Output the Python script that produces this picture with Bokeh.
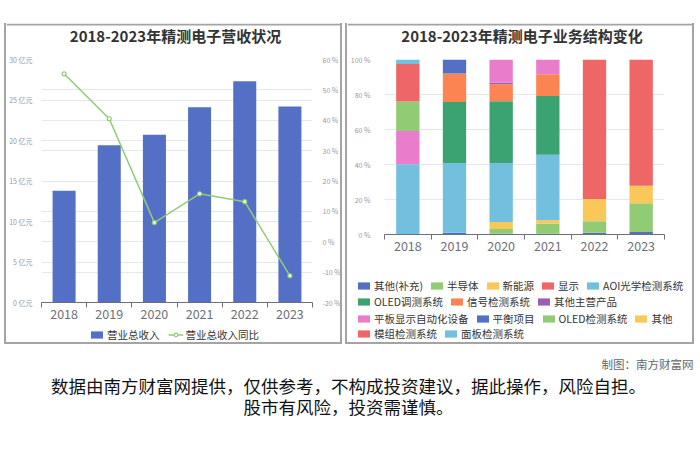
from bokeh.plotting import figure
from bokeh.models import (Range1d, LinearAxis, FixedTicker, PrintfTickFormatter, Grid,
                          Legend, LegendItem, Label, Spacer, Span, ColumnDataSource)
from bokeh.layouts import column, row
from bokeh.embed import file_html
from bokeh.resources import INLINE

# ---------------- data ----------------
years = ["2018", "2019", "2020", "2021", "2022", "2023"]

revenue = [13.8, 19.4, 20.7, 24.1, 27.3, 24.2]          # 营业总收入 (亿元)
revenue_yoy = [55.3, 40.5, 6.3, 15.8, 13.2, -11.2]      # 营业总收入同比 (%)

left_ticks = [0, 5, 10, 15, 20, 25, 30]
right_ticks = [-20, -10, 0, 10, 20, 30, 40, 50, 60]
pct_ticks = [0, 20, 40, 60, 80, 100]

segments = ["其他(补充)", "半导体", "新能源", "显示", "AOI光学检测系统",
            "OLED调测系统", "信号检测系统", "其他主营产品", "平板显示自动化设备",
            "平衡项目", "OLED检测系统", "其他", "模组检测系统", "面板检测系统"]

s_other_sup = [0.0, 1.0, 0.5, 0.5, 1.0, 1.5]
s_semi = [0.0, 0.0, 2.7, 5.6, 6.6, 16.4]
s_newenergy = [0.0, 0.0, 4.0, 2.1, 12.7, 10.0]
s_display = [0.0, 0.0, 0.0, 0.0, 79.7, 72.1]
s_aoi = [40.1, 39.9, 33.7, 37.4, 0.0, 0.0]
s_oled_tune = [0.0, 34.8, 35.3, 33.5, 0.0, 0.0]
s_signal = [0.0, 16.3, 9.7, 12.5, 0.0, 0.0]
s_other_main = [0.0, 0.0, 0.8, 0.0, 0.0, 0.0]
s_fpd_auto = [19.0, 0.0, 13.3, 8.4, 0.0, 0.0]
s_balance = [0.0, 8.0, 0.0, 0.0, 0.0, 0.0]
s_oled_det = [16.9, 0.0, 0.0, 0.0, 0.0, 0.0]
s_other = [0.0, 0.0, 0.0, 0.0, 0.0, 0.0]
s_module = [21.5, 0.0, 0.0, 0.0, 0.0, 0.0]
s_panel = [2.5, 0.0, 0.0, 0.0, 0.0, 0.0]

series_values = [s_other_sup, s_semi, s_newenergy, s_display, s_aoi, s_oled_tune,
                 s_signal, s_other_main, s_fpd_auto, s_balance, s_oled_det, s_other,
                 s_module, s_panel]

palette = ['#5470c6', '#91cc75', '#fac858', '#ee6666', '#73c0de', '#3ba272',
           '#fc8452', '#9a60b4', '#ea7ccc']
legend_rows = [[0, 1, 2, 3, 4], [5, 6, 7], [8, 9, 10, 11], [12, 13]]

title_left = "2018-2023年精测电子营收状况"
title_right = "2018-2023年精测电子业务结构变化"
credit = "制图：南方财富网"
disclaimer_1 = "数据由南方财富网提供，仅供参考，不构成投资建议，据此操作，风险自担。"
disclaimer_2 = "股市有风险，投资需谨慎。"

FONT = "Noto Sans CJK SC"
AXIS_C = "#6E7079"
GRID_C = "#E3E7EF"
BORDER_C = "#a4a4a4"
BORDER = "2px solid " + BORDER_C
NAN = float("nan")

xpos = [i + 0.5 for i in range(len(years))]
xlabels = {x: y for x, y in zip(xpos, years)}


def no_frame_align(p):
    if "frame_align" in p.properties():
        p.frame_align = False


def bare(p):
    p.outline_line_color = None
    p.xgrid.visible = False
    p.ygrid.visible = False


def add_x_axis(p):
    ax = LinearAxis(ticker=FixedTicker(ticks=xpos, minor_ticks=list(range(len(years) + 1))),
                    major_label_overrides=xlabels,
                    axis_line_color=AXIS_C, major_tick_line_color=None, major_tick_out=0,
                    major_tick_in=0, minor_tick_line_color=AXIS_C, minor_tick_out=5,
                    minor_tick_in=0, major_label_standoff=1,
                    major_label_text_font_size="12.5px", major_label_text_color=AXIS_C,
                    major_label_text_font=FONT)
    p.add_layout(ax, "below")


def plain_fig(width, height, style, yr=(0, 1)):
    f = figure(width=width, height=height, x_range=Range1d(0, 1), y_range=Range1d(*yr),
               x_axis_type=None, y_axis_type=None, output_backend="svg", toolbar_location=None,
               min_border=0)
    bare(f)
    if style:
        f.styles = style
    no_frame_align(f)
    return f


MID_STYLE = {"border-left": BORDER, "border-right": BORDER, "box-sizing": "border-box"}
BOTTOM_STYLE = {"border-bottom": BORDER, "border-left": BORDER, "border-right": BORDER,
                "box-sizing": "border-box"}

TITLE_H = 31


def title_fig(width, text):
    # panel top edge drawn as a Span inside the canvas so the title text fits the canvas
    t = plain_fig(width, TITLE_H, MID_STYLE, yr=(0, TITLE_H))
    t.add_layout(Span(location=TITLE_H - 1, dimension="width", line_color=BORDER_C, line_width=2))
    t.add_layout(Label(x=0.5, y=TITLE_H - 11.5, text=text, text_align="center",
                       text_baseline="middle", text_font=FONT, text_font_size="15px",
                       text_font_style="bold", text_color="#333333"))
    return t


def legend(items, loc, spacing):
    return Legend(items=items, orientation="horizontal", location=loc, margin=0,
                  glyph_width=15, glyph_height=9, label_standoff=3, spacing=spacing, padding=0,
                  border_line_color=None, background_fill_alpha=0, label_height=16,
                  label_text_font_size="10.5px", label_text_color="#333333", label_text_font=FONT)


# ---------------- left chart ----------------
src1 = ColumnDataSource(dict(x=xpos, rev=revenue, yoy=revenue_yoy))

p1 = figure(width=338, height=271, x_range=Range1d(0, 6), y_range=Range1d(0, 30),
            x_axis_type=None, y_axis_type=None, output_backend="svg", toolbar_location=None,
            min_border_left=32, min_border_right=32, min_border_top=5, min_border_bottom=23)
p1.extra_y_ranges = {"pct": Range1d(-20, 60)}
bare(p1)
p1.styles = MID_STYLE
no_frame_align(p1)

yl = LinearAxis(ticker=FixedTicker(ticks=left_ticks), formatter=PrintfTickFormatter(format="%d 亿元"),
                axis_line_color=None, major_tick_line_color=None, minor_tick_line_color=None,
                major_label_text_font_size="7px", major_label_text_color="#999999",
                major_label_text_font=FONT, major_label_standoff=3)
yr = LinearAxis(y_range_name="pct", ticker=FixedTicker(ticks=right_ticks),
                formatter=PrintfTickFormatter(format="%d %%"),
                axis_line_color=None, major_tick_line_color=None, minor_tick_line_color=None,
                major_label_text_font_size="7px", major_label_text_color="#999999",
                major_label_text_font=FONT, major_label_standoff=4)
p1.add_layout(yl, "left")
p1.add_layout(yr, "right")
p1.add_layout(Grid(dimension=1, ticker=yl.ticker, grid_line_color=GRID_C))
p1.add_layout(Grid(dimension=1, ticker=yr.ticker, y_range_name="pct", grid_line_color=GRID_C))
add_x_axis(p1)

p1.vbar(x="x", top="rev", width=0.51, source=src1, fill_color="#5470c6", line_color=None)
p1.line(x="x", y="yoy", source=src1, y_range_name="pct", line_color="#91cc75", line_width=1.5)
p1.scatter(x="x", y="yoy", source=src1, y_range_name="pct", size=4,
           fill_color="white", line_color="#91cc75", line_width=1.2)

# legend strip of the left panel (legend keys only: a NaN row draws no mark)
l1 = plain_fig(338, 19, BOTTOM_STYLE)
key1 = ColumnDataSource(dict(x=[NAN], y=[NAN]))
k_bar = l1.vbar(x="x", top="y", width=0.5, source=key1, fill_color="#5470c6", line_color=None)
k_line = l1.line(x="x", y="y", source=key1, line_color="#91cc75", line_width=1.5)
k_pt = l1.scatter(x="x", y="y", source=key1, size=6, fill_color="white",
                  line_color="#91cc75", line_width=1.2)
l1.add_layout(legend([LegendItem(label="营业总收入", renderers=[k_bar], index=0),
                      LegendItem(label="营业总收入同比", renderers=[k_line, k_pt], index=0)],
                     (83, 2), 8))

# ---------------- right chart ----------------
data2 = dict(x=xpos)
for name, vals in zip(segments, series_values):
    data2[name] = vals
src2 = ColumnDataSource(data2)
colors = [palette[i % len(palette)] for i in range(len(segments))]

p2 = figure(width=349, height=214, x_range=Range1d(0, 6), y_range=Range1d(0, 100),
            x_axis_type=None, y_axis_type=None, output_backend="svg", toolbar_location=None,
            min_border_left=33, min_border_right=32, min_border_top=5, min_border_bottom=34)
bare(p2)
p2.styles = MID_STYLE
no_frame_align(p2)

y2 = LinearAxis(ticker=FixedTicker(ticks=pct_ticks), formatter=PrintfTickFormatter(format="%d %%"),
                axis_line_color=None, major_tick_line_color=None, minor_tick_line_color=None,
                major_label_text_font_size="7px", major_label_text_color="#999999",
                major_label_text_font=FONT, major_label_standoff=8)
p2.add_layout(y2, "left")
p2.add_layout(Grid(dimension=1, ticker=y2.ticker, grid_line_color=GRID_C))
add_x_axis(p2)

p2.vbar_stack(stackers=segments, x="x", width=0.5, color=colors, source=src2, line_color=None)

# legend strip of the right panel (legend keys only: a NaN row draws no mark)
l2 = plain_fig(349, 76, BOTTOM_STYLE)
key2 = ColumnDataSource(dict(x=[NAN], y=[NAN]))
keys2 = [l2.vbar(x="x", top="y", width=0.5, source=key2, fill_color=c, line_color=None)
         for c in colors]
row_bottoms = [50.5, 34.5, 17.5, 2.5]
for r, idxs in enumerate(legend_rows):
    l2.add_layout(legend([LegendItem(label=segments[i], renderers=[keys2[i]], index=0) for i in idxs],
                         (9, row_bottoms[r]), 6))

# ---------------- footer ----------------
p3 = figure(width=700, height=123, x_range=Range1d(0, 700), y_range=Range1d(0, 123),
            x_axis_type=None, y_axis_type=None, output_backend="svg", toolbar_location=None,
            min_border=0)
bare(p3)
p3.add_layout(Label(x=693, y=104, text=credit, text_align="right", text_baseline="middle",
                    text_font=FONT, text_font_size="11.5px", text_color="#666666"))
p3.add_layout(Label(x=348, y=82, text=disclaimer_1, text_align="center", text_baseline="middle",
                    text_font=FONT, text_font_size="17.5px", text_color="#111111"))
p3.add_layout(Label(x=348, y=61, text=disclaimer_2, text_align="center", text_baseline="middle",
                    text_font=FONT, text_font_size="17.5px", text_color="#111111"))

t1 = title_fig(338, title_left)
t2 = title_fig(349, title_right)

layout = column(Spacer(height=23),
                row(Spacer(width=4), column(t1, p1, l1), Spacer(width=3), column(t2, p2, l2)),
                p3)

open("out.html", "w").write(file_html(layout, INLINE))
